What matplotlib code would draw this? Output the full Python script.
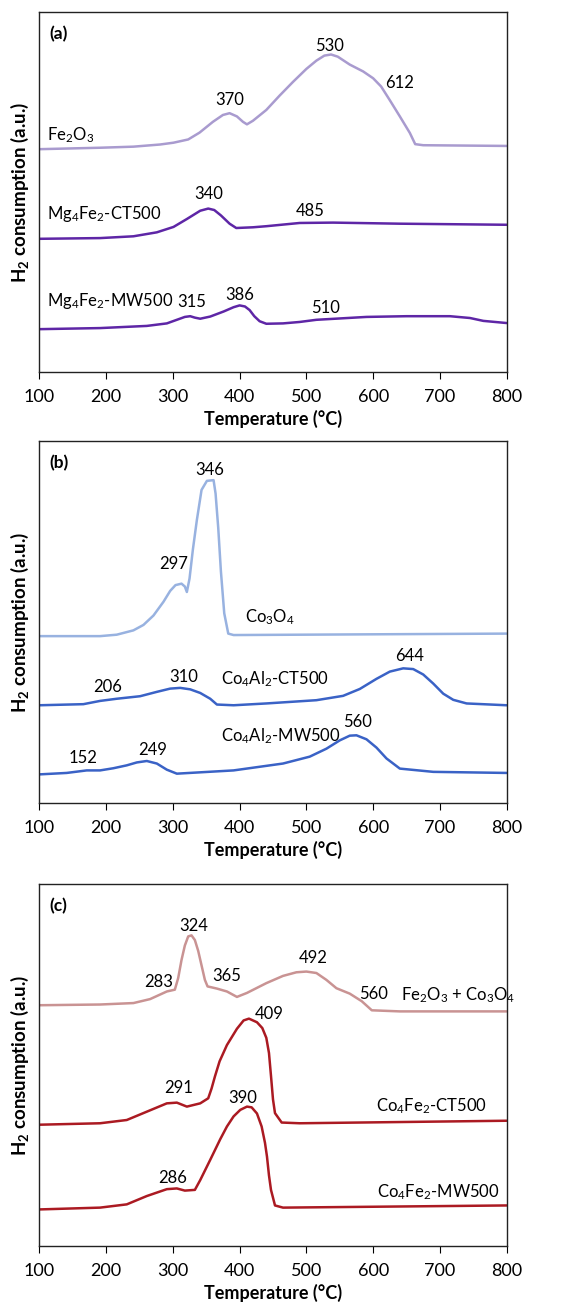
import matplotlib
matplotlib.use("Agg")
import matplotlib.pyplot as plt

plt.rcParams["font.family"] = ["Lato", "DejaVu Sans"]
plt.rcParams["mathtext.default"] = "regular"

# ---- panel (a): Fe oxides ----
a_fe2o3_t = [100, 191, 241, 281, 301, 323, 340, 360, 375, 385, 396, 405, 411, 420, 440, 460,
             480, 500, 515, 527, 537, 547, 565, 585, 600, 612, 625, 640, 655, 663, 675, 800]
a_fe2o3_y = [61.9, 62.3, 62.6, 63.2, 63.7, 64.6, 66.5, 69.5, 71.4, 71.9, 71.0, 69.5, 68.8,
             69.8, 72.8, 76.8, 80.6, 84.2, 86.5, 87.9, 88.2, 87.6, 85.4, 83.5, 81.6, 79.3,
             75.5, 71.0, 66.4, 63.3, 63.0, 62.8]
a_ct_t = [100, 191, 241, 276, 301, 321, 341, 353, 362, 372, 385, 395, 420, 440, 490, 540,
          640, 800]
a_ct_y = [37.0, 37.2, 37.7, 38.8, 40.3, 42.5, 44.8, 45.4, 45.0, 43.5, 41.2, 40.0, 40.2,
          40.5, 41.4, 41.5, 41.2, 40.9]
a_mw_t = [100, 191, 261, 291, 306, 318, 326, 333, 341, 356, 376, 391, 400, 408, 415, 422,
          430, 440, 465, 490, 515, 590, 650, 715, 745, 765, 800]
a_mw_y = [11.9, 12.2, 12.8, 13.5, 14.5, 15.3, 15.5, 15.1, 14.8, 15.4, 16.8, 18.0, 18.5,
          18.2, 17.2, 15.5, 14.1, 13.4, 13.5, 13.9, 14.5, 15.3, 15.5, 15.5, 15.0, 14.2, 13.6]

# ---- panel (b): Co/Al ----
b_co3o4_t = [100, 191, 216, 241, 256, 271, 286, 296, 304, 313, 318, 321, 325, 330, 336,
             343, 351, 361, 364, 368, 372, 377, 383, 391, 800]
b_co3o4_y = [46.1, 46.1, 46.5, 47.7, 49.2, 51.8, 55.6, 58.6, 60.2, 60.6, 59.8, 58.3, 62.0,
             70.0, 78.2, 86.5, 89.0, 89.2, 85.5, 76.0, 64.0, 52.4, 46.8, 46.4, 46.8]
b_ct_t = [100, 166, 191, 216, 251, 276, 296, 311, 326, 341, 356, 366, 391, 440, 515, 555,
          580, 605, 625, 645, 660, 675, 690, 705, 720, 740, 800]
b_ct_y = [27.0, 27.3, 28.2, 28.8, 29.5, 30.7, 31.6, 31.8, 31.4, 30.4, 28.8, 27.2, 27.0,
          27.5, 28.4, 29.6, 31.5, 34.3, 36.3, 37.2, 37.0, 35.5, 33.0, 30.2, 28.5, 27.5, 27.0]
b_mw_t = [100, 141, 171, 191, 211, 231, 246, 261, 276, 291, 306, 391, 465, 505, 530, 550,
          565, 575, 590, 605, 620, 640, 690, 800]
b_mw_y = [7.9, 8.3, 9.0, 9.0, 9.6, 10.4, 11.2, 11.6, 10.9, 9.2, 8.1, 9.0, 10.9, 12.8, 15.0,
          17.3, 18.6, 18.7, 17.6, 15.3, 12.3, 9.5, 8.6, 8.3]

# ---- panel (c): Co/Fe ----
c_mix_t = [100, 191, 241, 266, 291, 303, 308, 313, 318, 323, 328, 333, 338, 343, 348, 352,
           366, 381, 396, 411, 440, 465, 485, 500, 515, 530, 545, 565, 583, 598, 640, 800]
c_mix_y = [66.5, 66.7, 67.1, 68.2, 70.3, 70.8, 74.0, 79.0, 83.0, 85.5, 85.8, 84.5, 81.5,
           77.5, 73.5, 71.7, 71.1, 70.3, 68.8, 69.9, 72.6, 74.6, 75.6, 75.8, 75.4, 73.5,
           71.2, 69.7, 67.6, 65.1, 64.8, 64.8]
c_ct_t = [100, 191, 231, 261, 291, 306, 321, 341, 353, 358, 363, 370, 381, 396, 406, 414,
          426, 434, 440, 444, 447, 450, 453, 463, 490, 800]
c_ct_y = [33.5, 33.9, 34.8, 37.1, 39.4, 39.6, 38.5, 39.4, 40.8, 43.5, 46.8, 51.0, 55.5,
          60.0, 62.3, 62.8, 61.8, 60.2, 57.5, 53.3, 47.0, 40.5, 36.7, 34.1, 33.9, 34.6]
c_mw_t = [100, 191, 231, 261, 291, 306, 318, 333, 341, 356, 371, 381, 391, 401, 411, 418,
          426, 433, 438, 441, 444, 447, 453, 465, 800]
c_mw_y = [10.1, 10.6, 11.5, 13.8, 15.7, 15.9, 15.3, 15.5, 18.2, 23.8, 29.5, 33.0, 35.8,
          37.6, 38.5, 38.3, 36.6, 33.0, 28.5, 24.7, 19.5, 15.5, 11.2, 10.6, 11.2]

x_ticks = [100, 200, 300, 400, 500, 600, 700, 800]

# (text, x, y, ha)
a_labels = [("Fe$_2$O$_3$", 111, 65.7, "left"), ("370", 385, 75.6, "center"),
            ("530", 534, 90.7, "center"), ("612", 639, 80.3, "center"),
            ("Mg$_4$Fe$_2$-CT500", 111, 44.0, "left"), ("340", 353, 49.5, "center"),
            ("485", 505, 44.7, "center"), ("Mg$_4$Fe$_2$-MW500", 111, 19.6, "left"),
            ("315", 328, 19.4, "center"), ("386", 400, 21.3, "center"),
            ("510", 528, 17.9, "center")]
b_labels = [("346", 355, 92.0, "center"), ("297", 301, 66.0, "center"),
            ("Co$_3$O$_4$", 408, 51.4, "left"), ("206", 202, 32.1, "center"),
            ("310", 317, 34.8, "center"), ("Co$_4$Al$_2$-CT500", 372, 34.1, "left"),
            ("644", 654, 40.6, "center"), ("Co$_4$Al$_2$-MW500", 372, 18.4, "left"),
            ("560", 576, 22.4, "center"), ("152", 166, 12.5, "center"),
            ("249", 269, 14.6, "center")]
c_labels = [("324", 332, 88.5, "center"), ("283", 279, 72.8, "center"),
            ("365", 381, 74.7, "center"), ("492", 510, 79.5, "center"),
            ("560", 600, 69.7, "center"), ("Fe$_2$O$_3$ + Co$_3$O$_4$", 642, 69.4, "left"),
            ("409", 444, 64.1, "center"), ("291", 309, 43.6, "center"),
            ("Co$_4$Fe$_2$-CT500", 771, 38.5, "right"), ("390", 404, 40.8, "center"),
            ("286", 299, 18.9, "center"), ("Co$_4$Fe$_2$-MW500", 790, 15.0, "right")]

panels = [
    ("(a)", [0.068, 0.7156, 0.8086, 0.2752],
     [(a_fe2o3_t, a_fe2o3_y, "#a99bcf"), (a_ct_t, a_ct_y, "#5e26a6"), (a_mw_t, a_mw_y, "#5e26a6")],
     a_labels),
    ("(b)", [0.068, 0.3861, 0.8086, 0.2767],
     [(b_co3o4_t, b_co3o4_y, "#98b2e0"), (b_ct_t, b_ct_y, "#3a62c6"), (b_mw_t, b_mw_y, "#3a62c6")],
     b_labels),
    ("(c)", [0.068, 0.0474, 0.8086, 0.2768],
     [(c_mix_t, c_mix_y, "#c99393"), (c_ct_t, c_ct_y, "#ab1a22"), (c_mw_t, c_mw_y, "#ab1a22")],
     c_labels),
]

fig = plt.figure(figsize=(5.78, 13.08), dpi=100)

for tag, rect, curves, labels in panels:
    ax = fig.add_axes(rect)
    for t, y, col in curves:
        ax.plot(t, y, color=col, lw=1.8, solid_joinstyle="round", solid_capstyle="round")
    for txt, x, y, ha in labels:
        ax.text(x, y, txt, ha=ha, va="center", fontsize=12)
    ax.text(115, 93.8, tag, ha="left", va="center", fontsize=12.5, fontweight="bold")

    ax.set_xlim(100, 800)
    ax.set_ylim(0, 100)
    ax.set_xticks(x_ticks)
    ax.set_yticks([])
    ax.tick_params(axis="x", labelsize=13, direction="out", length=5, pad=7)
    for s in ax.spines.values():
        s.set_linewidth(1.0)
        s.set_color("#222222")
    ax.set_xlabel("Temperature (°C)", fontsize=13, fontweight="bold", labelpad=4)
    ax.set_ylabel("H$_2$ consumption (a.u.)", fontsize=13.5, fontweight="bold", labelpad=6)

fig.savefig("out.png", dpi=100)
